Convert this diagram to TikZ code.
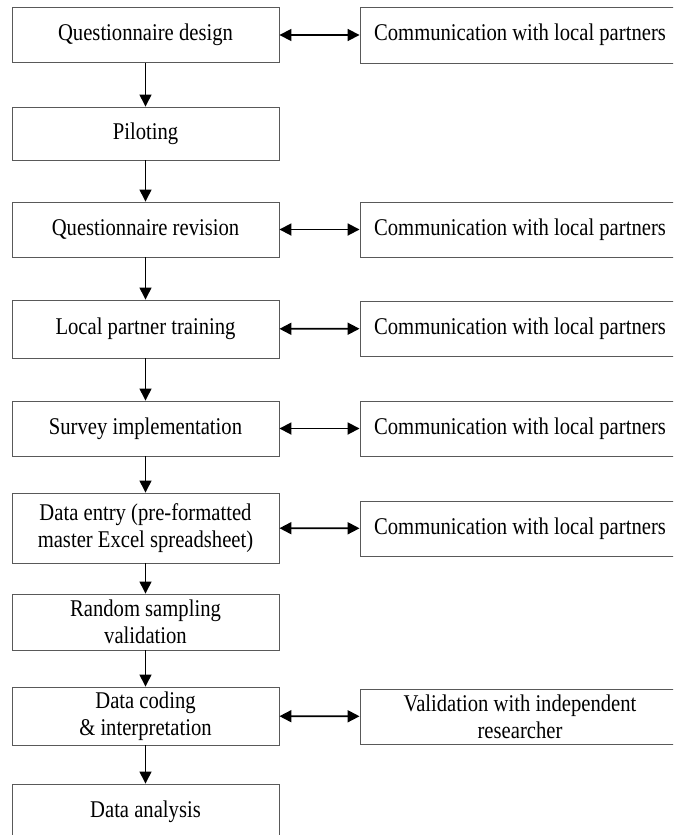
\documentclass[tikz,border=0pt]{standalone}
\usepackage{fontspec}
\setmainfont[FakeStretch=0.86]{Liberation Serif}
\usetikzlibrary{arrows.meta}
\begin{document}
	\begin{tikzpicture}[
			x=1pt, y=-1pt,
			stage/.style={draw=black!65, line width=0.9pt, minimum width=267pt, minimum height=55pt, inner sep=0pt, align=center, font=\fontsize{24}{27}\selectfont},
			side/.style={stage, minimum width=320pt},
			flow/.style={line width=1.3pt, -{Triangle[length=12pt,width=12pt]}},
			talk/.style={line width=1.8pt, {Triangle[length=12pt,width=12pt]}-{Triangle[length=12pt,width=12pt]}}
		]
		\clip (0,0) rectangle (673,835);
		\fill[white] (0,0) rectangle (673,835);
		% main steps
		\node[stage] (design) at (145.5,35) {Questionnaire design};
		\node[stage, minimum height=53pt] (pilot) at (145.5,133.5) {Piloting};
		\node[stage] (revision) at (145.5,229.5) {Questionnaire revision};
		\node[stage, minimum height=58pt] (training) at (145.5,329) {Local partner training};
		\node[stage] (survey) at (145.5,428.5) {Survey implementation};
		\node[stage, minimum height=70pt] (entry) at (145.5,528) {Data entry (pre-formatted\\master Excel spreadsheet)};
		\node[stage, minimum height=56pt] (sampling) at (145.5,622) {Random sampling\\validation};
		\node[stage, minimum height=58pt] (coding) at (145.5,716) {Data coding\\\& interpretation};
		\node[stage] (analysis) at (145.5,811.5) {Data analysis};
		% side steps
		\node[side, minimum height=56pt] (comm1) at (520,35) {Communication with local partners};
		\node[side] (comm2) at (520,229.5) {Communication with local partners};
		\node[side] (comm3) at (520,328.5) {Communication with local partners};
		\node[side] (comm4) at (520,428.5) {Communication with local partners};
		\node[side] (comm5) at (520,528.5) {Communication with local partners};
		\node[side] (check) at (520,716.5) {Validation with independent\\researcher};
		% arrows
		\draw[flow] (design) -- (pilot);
		\draw[flow] (pilot) -- (revision);
		\draw[flow] (revision) -- (training);
		\draw[flow] (training) -- (survey);
		\draw[flow] (survey) -- (entry);
		\draw[flow] (entry) -- (sampling);
		\draw[flow] (sampling) -- (coding);
		\draw[flow] (coding) -- (analysis);
		\draw[talk] (design) -- (comm1);
		\draw[talk] (revision) -- (comm2);
		\draw[talk] (training) -- (comm3);
		\draw[talk] (survey) -- (comm4);
		\draw[talk] (entry) -- (comm5);
		\draw[talk] (coding) -- (check);
	\end{tikzpicture}
\end{document}
